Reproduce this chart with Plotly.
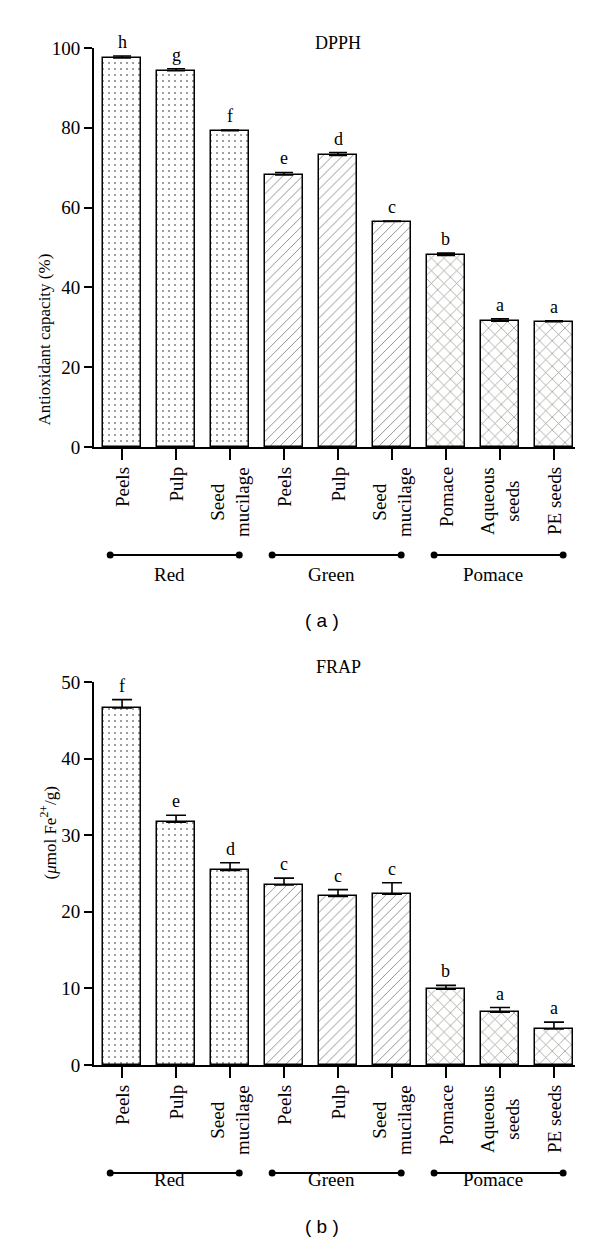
import plotly.graph_objects as go

# ---------------- data ----------------
labels = ["Peels", "Pulp", "Seed<br>mucilage", "Peels", "Pulp", "Seed<br>mucilage",
          "Pomace", "Aqueous<br>seeds", "PE seeds"]
groups = ["Red", "Green", "Pomace"]
group_members = [[0, 1, 2], [3, 4, 5], [6, 7, 8]]

dpph_values = [97.5, 94.3, 79.3, 68.2, 73.1, 56.5, 48.0, 31.5, 31.4]
dpph_errors = [0.5, 0.5, 0.15, 0.6, 0.7, 0.15, 0.6, 0.6, 0.2]
dpph_letters = ["h", "g", "f", "e", "d", "c", "b", "a", "a"]

frap_values = [46.6, 31.7, 25.4, 23.5, 22.0, 22.3, 9.9, 6.9, 4.7]
frap_errors = [1.1, 0.9, 1.0, 0.9, 0.9, 1.5, 0.5, 0.6, 0.9]
frap_letters = ["f", "e", "d", "c", "c", "c", "b", "a", "a"]

dpph_ticks = [0, 20, 40, 60, 80, 100]
frap_ticks = [0, 10, 20, 30, 40, 50]

# ---------------- styling ----------------
PAGE_W, PAGE_H = 600, 1253
OFF = 8                      # default page body margin
W, H = PAGE_W - OFF, PAGE_H - OFF
SERIF = "Liberation Serif"
SANS = "Liberation Sans"
FS = 18

def px_x(x):
    return (x - OFF) / W

def py(y):
    return 1 - (y - OFF) / H

xpos = list(range(len(labels)))
pat_shape = [".", ".", ".", "/", "/", "/", "x", "x", "x"]
pat_size = [6, 6, 6, 7, 7, 7, 9, 9, 9]
pat_sol = [0.09, 0.09, 0.09, 0.14, 0.14, 0.14, 0.16, 0.16, 0.16]
pat_fg = ["#000"] * 3 + ["#222"] * 3 + ["#2e2e22"] * 3

fig = go.Figure()

panels = [
    dict(vals=dpph_values, errs=dpph_errors, lets=dpph_letters, ticks=dpph_ticks,
         rng=[0, 100], top=48, base=447, title="DPPH", title_y=31,
         ytitle="Antioxidant capacity (%)", ytitle_x=32, ytitle_y=252,
         tag="( a )", capw=9),
    dict(vals=frap_values, errs=frap_errors, lets=frap_letters, ticks=frap_ticks,
         rng=[0, 50], top=682, base=1065, title="FRAP", title_y=667,
         ytitle="(<i>μ</i>mol Fe<sup>2+</sup>/g)", ytitle_x=35, ytitle_y=882,
         tag="( b )", capw=10),
]

annotations = []
shapes = []
x_domain = [px_x(94), px_x(575)]

for i, p in enumerate(panels):
    xa = "x" if i == 0 else "x2"
    ya = "y" if i == 0 else "y2"
    fig.add_trace(go.Bar(
        x=xpos, y=p["vals"], width=0.69, xaxis=xa, yaxis=ya,
        marker=dict(color="white", line=dict(color="black", width=1.5),
                    pattern=dict(shape=pat_shape, size=pat_size, solidity=pat_sol,
                                 fgcolor=pat_fg, bgcolor="white", fillmode="overlay")),
        error_y=dict(type="data", array=p["errs"], arrayminus=[0] * len(p["errs"]),
                     symmetric=False, color="black", thickness=1.6, width=p["capw"]),
        showlegend=False, hoverinfo="skip",
    ))
    axis_common = dict(showline=True, linecolor="black", linewidth=2, ticks="outside",
                       tickcolor="black", tickwidth=2, showgrid=False, zeroline=False,
                       automargin=False)
    fig.layout[("xaxis" if i == 0 else "xaxis2")] = dict(
        axis_common, domain=x_domain, range=[-0.52, 8.39], tickvals=xpos,
        showticklabels=False, ticklen=11, anchor=ya)
    fig.layout[("yaxis" if i == 0 else "yaxis2")] = dict(
        axis_common, domain=[py(p["base"]), py(p["top"])], range=p["rng"],
        tickvals=p["ticks"], ticklen=8, anchor=xa,
        tickfont=dict(family=SERIF, size=FS + 1, color="black"))

    # significance letters
    for xv, v, e, l in zip(xpos, p["vals"], p["errs"], p["lets"]):
        annotations.append(dict(x=xv, y=v + e, xref=xa, yref=ya, text=l, showarrow=False,
                                yanchor="bottom", yshift=2,
                                font=dict(family=SERIF, size=FS, color="black")))
    # x category labels (rotated, centred lines)
    for xv, l in zip(xpos, labels):
        annotations.append(dict(x=xv, y=py(p["base"] + 18), xref=xa, yref="paper",
                                text=l, showarrow=False, textangle=-90, align="center",
                                xanchor="center", yanchor="top",
                                font=dict(family=SERIF, size=FS + 1, color="black")))
    # group brackets
    line_y = py(p["base"] + 108)
    for g, mem in zip(groups, group_members):
        x0, x1 = mem[0] - 0.22, mem[-1] + 0.17
        shapes.append(dict(type="line", xref=xa, yref="paper", x0=x0, x1=x1,
                           y0=line_y, y1=line_y, line=dict(color="black", width=2)))
        for xe in (x0, x1):
            shapes.append(dict(type="circle", xref=xa, yref="paper", xsizemode="pixel",
                               ysizemode="pixel", xanchor=xe, yanchor=line_y,
                               x0=-3.5, x1=3.5, y0=-3.5, y1=3.5,
                               fillcolor="black", line=dict(color="black", width=0)))
        annotations.append(dict(x=(x0 + x1) / 2 - 0.1, y=py(p["base"] + 127), xref=xa,
                                yref="paper", text=g, showarrow=False,
                                font=dict(family=SERIF, size=FS + 1, color="black")))
    # titles
    annotations.append(dict(x=4, y=py(p["title_y"]), xref=xa, yref="paper",
                            text=p["title"], showarrow=False,
                            font=dict(family=SERIF, size=FS, color="black")))
    annotations.append(dict(x=px_x(p["ytitle_x"]), y=py(p["ytitle_y"]), xref="paper",
                            yref="paper", text=p["ytitle"], showarrow=False, textangle=-90,
                            font=dict(family=SERIF, size=17, color="black")))
    annotations.append(dict(x=px_x(322), y=py(p["base"] + 174), xref="paper", yref="paper",
                            text=p["tag"], showarrow=False,
                            font=dict(family=SANS, size=19, color="black")))

fig.update_layout(
    width=W, height=H, margin=dict(l=0, r=0, t=0, b=0, autoexpand=False),
    plot_bgcolor="white", paper_bgcolor="white",
    annotations=annotations, shapes=shapes, bargap=0,
)

fig.write_html("out.html")
